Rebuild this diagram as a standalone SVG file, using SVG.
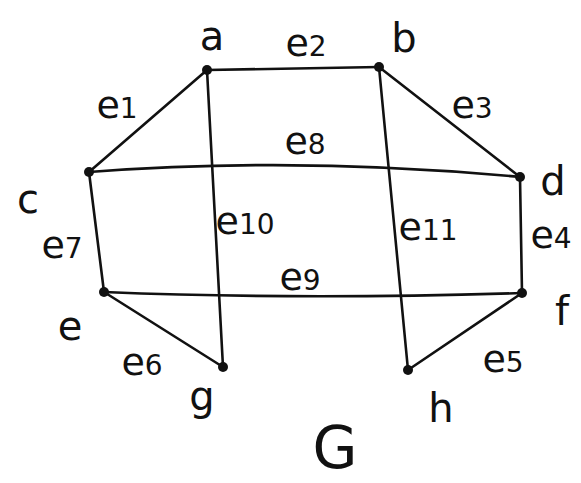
<svg xmlns="http://www.w3.org/2000/svg" width="581" height="483" viewBox="0 0 581 483">
<style>
.edge{stroke:#111;stroke-width:2.6;fill:none;stroke-linecap:round}
.dot{fill:#111}
text{font-family:"DejaVu Sans","Liberation Sans",sans-serif;fill:#111;text-anchor:middle}
.v{font-size:40px}
.l{font-size:38px}
.d{font-size:28px}
</style>
<rect width="581" height="483" fill="#fff"/>
<g id="edges">
<path class="edge" d="M207,70 L379,67"/>
<path class="edge" d="M207,70 L89,172"/>
<path class="edge" d="M379,67 L520,177"/>
<path class="edge" d="M89,172 Q300,156 520,177"/>
<path class="edge" d="M207,70 L223,367"/>
<path class="edge" d="M379,67 L408,370"/>
<path class="edge" d="M89,172 L104,292"/>
<path class="edge" d="M520,177 L522,293"/>
<path class="edge" d="M104,292 Q300,300 522,293"/>
<path class="edge" d="M104,292 L223,367"/>
<path class="edge" d="M408,370 L522,293"/>
<text class="l" x="306" y="56">e<tspan class="d">2</tspan></text>
<text class="l" x="117" y="118">e<tspan class="d">1</tspan></text>
<text class="l" x="472" y="118">e<tspan class="d">3</tspan></text>
<text class="l" x="305" y="154">e<tspan class="d">8</tspan></text>
<text class="l" x="245" y="234">e<tspan class="d">10</tspan></text>
<text class="l" x="428" y="240">e<tspan class="d">11</tspan></text>
<text class="l" x="62" y="258">e<tspan class="d">7</tspan></text>
<text class="l" x="551" y="248">e<tspan class="d">4</tspan></text>
<text class="l" x="300" y="290">e<tspan class="d">9</tspan></text>
<text class="l" x="142" y="375">e<tspan class="d">6</tspan></text>
<text class="l" x="503" y="372">e<tspan class="d">5</tspan></text>
</g>
<g id="node-a"><circle class="dot" cx="207" cy="70" r="5"/><text class="v" x="212" y="50">a</text></g>
<g id="node-b"><circle class="dot" cx="379" cy="67" r="5"/><text class="v" x="404" y="52">b</text></g>
<g id="node-c"><circle class="dot" cx="89" cy="172" r="5"/><text class="v" x="28" y="213">c</text></g>
<g id="node-d"><circle class="dot" cx="520" cy="177" r="5"/><text class="v" x="553" y="195">d</text></g>
<g id="node-e"><circle class="dot" cx="104" cy="292" r="5"/><text class="v" x="70" y="340">e</text></g>
<g id="node-f"><circle class="dot" cx="522" cy="293" r="5"/><text class="v" x="562" y="325">f</text></g>
<g id="node-g"><circle class="dot" cx="223" cy="367" r="5"/><text class="v" x="202" y="410">g</text></g>
<g id="node-h"><circle class="dot" cx="408" cy="370" r="5"/><text class="v" x="441" y="422">h</text></g>
<text x="335" y="468" style="font-size:58px">G</text>
</svg>
